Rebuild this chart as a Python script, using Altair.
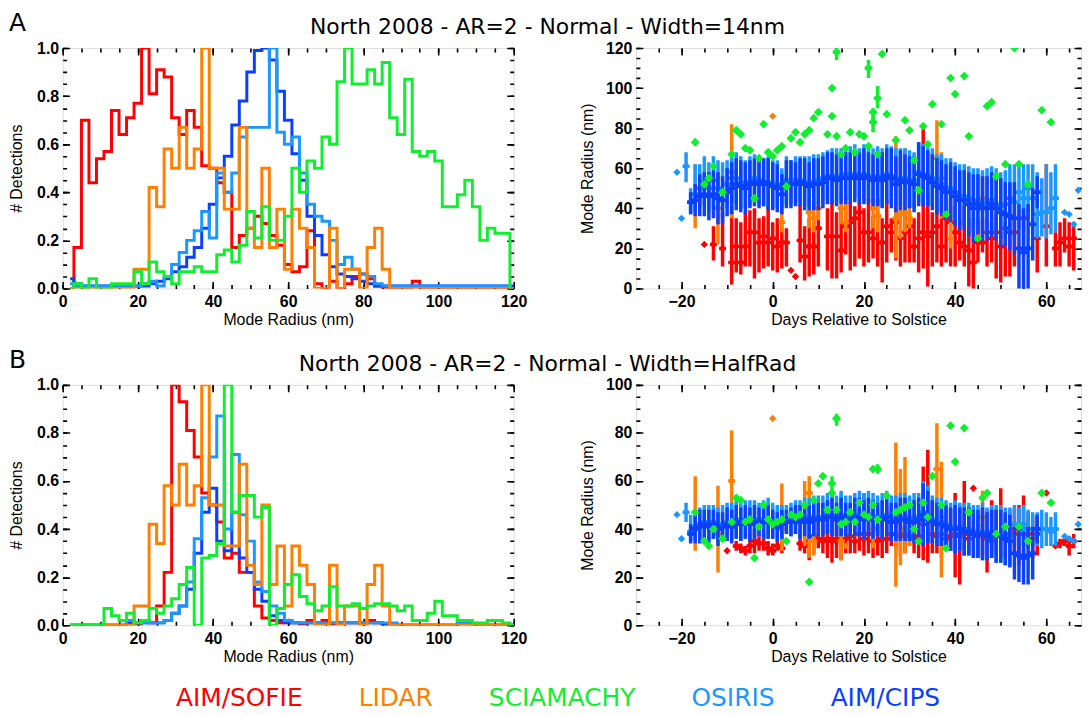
import altair as alt
import pandas as pd

# ---------------- categories / colours ----------------
SERIES = ["AIM/SOFIE", "LIDAR", "SCIAMACHY", "OSIRIS", "AIM/CIPS"]
COLORS = ["#ff0000", "#ff7f00", "#10ee30", "#1a98ff", "#0a40ff"]
HIST_ORDER = ["AIM/SOFIE", "AIM/CIPS", "OSIRIS", "LIDAR", "SCIAMACHY"]
SCAT_ORDER = ["AIM/SOFIE", "LIDAR", "OSIRIS", "AIM/CIPS", "SCIAMACHY"]

ROW_TITLES = ["North 2008 - AR=2 - Normal - Width=14nm",
              "North 2008 - AR=2 - Normal - Width=HalfRad"]
LETTERS = ["A", "B"]

# histogram bin centres (nm)
RADIUS_BINS = list(range(2, 121, 2))

# ---------------- histogram values, panel A ----------------
SOFIE_HA = [0.00,0.17,0.70,0.44,0.54,0.57,0.74,0.64,0.71,0.77, 1.00,0.81,0.91,0.88,0.71,0.64,0.74,0.67,0.51,0.50,
            0.44,0.40,0.17,0.22,0.25,0.30,0.27,0.22,0.18,0.10, 0.07,0.09,0.24,0.02,0.00,0.03,0.00,0.02,0.05,0.06,
            0.04,0.01,0.00,0.00,0.00,0.00,0.03,0.00,0.00,0.00, 0,0,0,0,0,0,0,0,0,0]
LIDAR_HA = [0,0,0,0,0,0,0,0,0,0.08, 0.08,0.42,0.34,0.58,0.50,0.67,0.50,0.58,1.00,0.50,
            0.50,0.33,0.33,0.67,0.25,0.17,0.50,0.17,0.33,0.08, 0.33,0.25,0.17,0.00,0.00,0.25,0.00,0.08,0.08,0.00,
            0.17,0.25,0.08,0,0,0,0,0,0,0, 0,0,0,0,0,0,0,0,0,0]
SCIA_HA = [0.00,0.02,0.00,0.04,0.00,0.00,0.02,0.02,0.02,0.07, 0.02,0.11,0.07,0.05,0.02,0.07,0.07,0.09,0.07,0.07,
           0.14,0.16,0.11,0.18,0.32,0.21,0.34,0.20,0.20,0.30, 0.50,0.40,0.53,0.50,0.63,0.60,0.86,1.00,0.85,0.85,
           0.91,0.85,0.94,0.71,0.64,0.87,0.57,0.55,0.57,0.53, 0.34,0.34,0.39,0.45,0.34,0.20,0.25,0.23,0.23,0.00]
OSIRIS_HA = [0.02,0.01,0.01,0.01,0.01,0.01,0.01,0.01,0.01,0.01, 0.02,0.03,0.01,0.05,0.10,0.15,0.20,0.24,0.32,0.21,
             0.48,0.40,0.48,0.63,0.67,0.67,0.67,1.00,0.65,0.60, 0.63,0.48,0.35,0.30,0.28,0.20,0.10,0.13,0.08,0.06,
             0.05,0.02,0.01,0.01,0.01,0.01,0.01,0.01,0.01,0.01, 0.01,0.01,0.01,0.01,0.01,0.01,0.01,0.01,0.01,0.00]
CIPS_HA = [0.04,0.02,0.01,0.01,0.01,0.01,0.01,0.01,0.01,0.01, 0.01,0.02,0.03,0.04,0.07,0.09,0.13,0.17,0.25,0.35,
           0.46,0.55,0.68,0.78,0.90,0.99,1.00,0.95,0.82,0.70, 0.56,0.45,0.30,0.22,0.14,0.09,0.06,0.05,0.04,0.03,
           0.02,0.01,0.01,0.01,0.01,0.01,0.01,0.01,0.01,0.01, 0.01,0.01,0.01,0.01,0.01,0.01,0.01,0.01,0.01,0.01]

# ---------------- histogram values, panel B ----------------
SOFIE_HB = [0,0,0,0,0,0,0,0,0,0, 0.02,0.01,0.08,0.22,1.00,0.93,0.81,0.70,0.55,0.50,
            0.43,0.28,0.30,0.22,0.22,0.08,0.03,0.02,0.01,0.02, 0.01,0.00,0.02,0.01,0.02,0.00,0.01,0.01,0.01,0.01,
            0.02,0.01,0,0,0,0,0,0,0,0, 0,0,0,0,0,0,0,0,0,0]
LIDAR_HB = [0,0,0,0,0,0,0,0,0,0.08, 0.08,0.42,0.34,0.58,0.50,0.67,0.50,0.58,1.00,0.50,
            0.50,0.33,0.33,0.67,0.25,0.17,0.50,0.17,0.33,0.08, 0.33,0.25,0.17,0.00,0.00,0.25,0.00,0.08,0.08,0.00,
            0.17,0.25,0.08,0,0,0,0,0,0,0, 0,0,0,0,0,0,0,0,0,0]
SCIA_HB = [0,0,0,0,0,0.07,0.04,0.02,0.05,0.01, 0.02,0.07,0.05,0.08,0.11,0.17,0.24,0.00,0.28,0.29,
           0.34,1.00,0.47,0.54,0.54,0.45,0.49,0.00,0.07,0.17, 0.21,0.12,0.09,0.06,0.08,0.16,0.08,0.08,0.09,0.07,
           0.08,0.09,0.09,0.08,0.06,0.08,0.02,0.02,0.05,0.10, 0.04,0.04,0.02,0.02,0.01,0.01,0.02,0.02,0.01,0.00]
OSIRIS_HB = [0,0,0,0,0,0,0,0,0.02,0.01, 0.01,0.01,0.01,0.02,0.05,0.08,0.18,0.36,0.53,0.70,
             0.87,0.40,0.71,0.46,0.35,0.18,0.14,0.08,0.05,0.02, 0.01,0.01,0.01,0.01,0.01,0.01,0.01,0.01,0.01,0.01,
             0.01,0.01,0.01,0.01,0,0,0,0,0,0, 0,0,0.01,0.01,0,0,0,0,0,0]
CIPS_HB = [0,0,0,0,0,0,0,0,0.01,0.01, 0.01,0.01,0.01,0.02,0.05,0.08,0.15,0.30,0.47,0.57,
           0.35,0.31,0.47,0.28,0.22,0.15,0.10,0.04,0.02,0.01, 0.01,0.01,0.01,0.01,0.01,0.01,0.01,0.01,0.01,0.01,
           0.01,0.01,0,0,0,0,0,0,0,0, 0,0,0.01,0.01,0,0,0,0,0,0]

# ---------------- daily mode radius (day, centre, low, high), panel A ----------------
SOFIE_SA = [(-15,22,22,22),(-13,22,14,31),(-11,20,11,38),(-9,13,2,41),(-8,21,8,35),(-7,13,7,33),(-6,21,11,38),
            (-5,28,11,39),(-4,28,5,40),(-3,23,8,35),(-2,26,10,36),(-1,23,11,41),(0,25,9,33),(1,21,8,35),(2,23,10,31),
            (3,23,11,30),(4,9,9,9),(5,6,6,6),(6,24,13,42),(7,16,4,31),(8,21,6,35),(9,21,7,36),(10,30,11,41),
            (12,26,9,40),(13,26,5,45),(14,26,5,38),(15,19,8,41),(16,31,17,42),(17,33,9,43),(18,35,11,41),
            (19,38,15,43),(20,28,11,40),(21,28,13,45),(22,25,15,36),(23,36,11,45),(24,23,3,35),(25,31,13,45),
            (26,28,18,35),(27,33,14,41),(28,25,11,40),(29,28,13,41),(30,31,13,38),(31,21,13,35),(32,25,8,38),
            (33,28,10,80),(34,26,1,47),(35,28,11,38),(36,31,13,41),(37,21,11,35),(38,35,13,46),(39,33,11,41),
            (40,28,11,41),(41,23,14,35),(42,21,11,41),(43,19,1,35),(44,13,-3,35),(45,23,13,33),(46,23,18,35),
            (47,28,11,35),(48,25,13,33),(49,28,5,38),(50,21,3,28),(51,30,6,33),(52,28,6,37),(53,28,11,38),
            (55,35,19,50),(58,25,8,38),(60,31,11,62),(62,20,11,28),(63,23,11,33),(64,25,18,35),(65,21,11,33),
            (66,25,9,33)]
LIDAR_SA = [(-17,47,30,62),(-12,40,22,58),(-9,58,35,82),(0,86,86,86),(2,33,28,58),(8,38,30,50),(9,35,28,45),
            (10,40,34,43),(15,40,32,48),(16,33,28,45),(22,40,30,50),(23,36,28,44),(27,35,15,76),(28,37,25,65),
            (29,38,28,70),(30,35,30,50),(36,65,40,84),(37,55,35,68),(39,25,20,45),(46,45,38,56)]
OSIRIS_SA = [(-21,58,58,58),(-20,35,35,35),(-19,61,53,68),(-18,43,37,50),(-17,47,38,62),(-16,50,40,62),
             (-15,53,42,66),(-14,50,38,63),(-13,54,40,66),(-12,50,38,64),(-11,48,35,63),(-10,52,40,64),
             (-9,55,42,66),(-8,55,42,68),(-7,53,40,66),(-6,52,40,64),(-5,53,41,66),(-4,55,43,67),(-3,54,42,66),
             (-2,53,41,65),(-1,53,40,66),(0,52,40,64),(1,52,40,64),(2,50,40,60),(3,54,42,66),(4,53,42,64),
             (5,54,42,66),(6,54,43,66),(7,53,41,66),(8,53,40,66),(9,53,40,67),(10,54,42,67),(11,55,42,68),
             (12,56,44,69),(13,56,43,70),(14,56,43,70),(15,56,44,70),(16,57,44,70),(17,57,44,71),(18,57,45,72),
             (19,56,43,70),(20,57,44,72),(21,56,43,71),(22,56,43,70),(23,56,42,71),(24,55,41,70),(25,57,42,72),
             (26,56,42,71),(27,54,40,70),(28,55,41,70),(29,55,41,70),(30,54,40,69),(31,54,40,68),(32,58,43,73),
             (33,57,42,72),(34,56,41,71),(35,55,41,70),(36,53,39,67),(37,52,38,67),(38,50,36,65),(39,50,35,65),
             (40,48,34,63),(41,46,32,62),(42,46,31,62),(43,45,30,61),(44,43,28,60),(45,44,29,60),(46,42,27,59),
             (47,43,27,60),(48,44,28,61),(49,42,27,60),(50,41,25,58),(51,42,27,59),(52,45,28,62),(53,43,25,62),
             (54,48,30,63),(55,45,28,62),(56,50,35,62),(57,45,27,62),(58,37,25,58),(59,38,26,55),(60,38,25,62),
             (61,40,27,58),(62,45,28,62),(64,38,38,38),(65,37,37,37),(66,32,32,32),(67,49,49,49)]
CIPS_SA = [(-18,43,37,48),(-17,44,36,52),(-16,46,36,57),(-15,47,36,58),(-14,46,34,58),(-13,47,35,59),
           (-12,45,32,58),(-11,44,32,56),(-10,48,36,60),(-9,50,37,63),(-8,52,39,65),(-7,51,38,64),(-6,50,37,63),
           (-5,52,40,64),(-4,53,41,65),(-3,52,40,64),(-2,53,41,65),(-1,52,39,65),(0,51,39,63),(1,50,38,62),
           (2,47,37,57),(3,52,40,64),(4,52,40,64),(5,52,41,63),(6,53,41,65),(7,52,39,65),(8,51,39,63),
           (9,52,39,65),(10,52,39,65),(11,53,40,66),(12,55,42,68),(13,55,42,68),(14,54,41,67),(15,55,42,68),
           (16,55,42,68),(17,55,42,68),(18,56,43,69),(19,55,42,68),(20,56,42,70),(21,55,42,68),(22,54,41,67),
           (23,55,41,69),(24,54,40,68),(25,56,42,70),(26,55,40,70),(27,52,38,66),(28,54,39,69),(29,53,39,67),
           (30,53,40,66),(31,52,38,66),(32,57,41,73),(33,56,41,71),(34,55,41,69),(35,53,39,67),(36,51,37,65),
           (37,50,36,64),(38,48,34,62),(39,48,33,63),(40,46,31,61),(41,44,29,59),(42,44,29,59),(43,42,26,58),
           (44,40,23,57),(45,42,27,57),(46,40,24,56),(47,40,24,56),(48,42,26,58),(49,40,24,56),(50,38,21,55),
           (51,37,21,53),(52,36,19,53),(53,35,17,53),(54,20,-2,42),(55,18,-4,40),(56,20,-2,42),(57,32,14,50),
           (58,48,40,56)]
SCIA_SA = [(-17,73,73,73),(-15,52,52,52),(-14,55,55,55),(-13,61,61,61),(-11,48,48,48),(-9,67,67,67),
           (-8,79,79,79),(-7,77,77,77),(-6,70,70,70),(-5,69,69,69),(-4,45,45,45),(-3,65,65,65),(-2,82,82,82),
           (-1,68,68,68),(0,66,66,66),(1,69,69,69),(2,71,71,71),(3,51,51,51),(4,75,75,75),(5,78,78,78),
           (6,73,73,73),(7,77,77,77),(8,79,79,79),(9,85,85,85),(10,88,88,88),(12,77,77,77),(13,100,100,100),
           (13,86,86,86),(14,118,114,121),(14,76,76,76),(15,67,67,67),(16,70,70,70),(17,78,78,78),(18,68,68,68),
           (19,77,77,77),(20,76,76,76),(21,110,105,114),(21,71,71,71),(22,88,84,90),(22,83,78,86),
           (23,95,90,101),(23,67,67,67),(24,117,117,117),(25,87,87,87),(27,74,74,74),(29,84,84,84),(30,79,79,79),
           (31,64,64,64),(32,49,49,49),(33,81,81,81),(34,72,72,72),(35,92,92,92),(37,82,82,82),(38,37,37,37),
           (39,105,105,105),(40,97,97,97),(42,106,106,106),(43,76,76,76),(45,25,25,25),(47,91,91,91),
           (48,93,93,93),(49,56,56,56),(51,62,62,62),(53,120,120,120),(54,62,62,62),(56,52,52,52),
           (59,89,89,89),(61,83,83,83)]

# ---------------- daily mode radius (day, centre, low, high), panel B ----------------
SOFIE_SB = [(-10,31,31,31),(-8,33,31,35),(-7,32,30,34),(-6,31,29,33),(-5,33,30,38),(-4,35,30,40),(-3,34,31,37),
            (-2,34,31,38),(-1,32,29,35),(0,31,29,34),(1,33,31,35),(2,32,30,38),(6,34,31,38),(7,33,30,37),
            (8,35,27,43),(9,37,30,44),(10,36,32,44),(11,35,30,42),(12,36,28,45),(13,35,26,44),(14,36,28,45),
            (15,35,27,44),(16,36,30,45),(17,37,30,45),(18,35,30,41),(19,38,31,49),(20,36,29,55),(21,38,30,48),
            (22,35,28,45),(23,35,29,42),(24,36,28,45),(25,36,30,50),(26,38,33,48),(27,38,32,45),(28,37,29,47),
            (29,38,30,49),(30,37,33,45),(31,36,30,46),(32,37,28,45),(33,42,27,66),(34,44,26,73),(35,38,30,52),
            (36,37,30,45),(37,38,28,48),(38,36,32,45),(39,37,31,48),(40,38,20,55),(41,37,17,50),(42,38,29,60),
            (43,36,30,49),(44,57,57,57),(45,37,29,42),(46,38,29,45),(47,36,22,48),(48,35,28,52),(49,37,30,48),
            (50,38,28,57),(51,36,28,45),(52,38,30,48),(53,40,30,49),(54,38,25,50),(55,40,28,54),(56,38,32,47),
            (57,36,28,45),(58,38,29,46),(60,55,55,55),(62,33,33,33),(63,34,32,36),(64,35,33,37),(65,33,29,37),
            (66,35,32,38)]
LIDAR_SB = [(-17,47,31,62),(-12,38,22,58),(-9,60,38,81),(0,86,86,86),(2,40,31,59),(7,45,33,60),(8,55,28,62),
            (9,35,29,45),(15,35,27,55),(16,33,33,33),(22,40,32,48),(27,45,16,76),(28,45,25,65),(29,40,30,70),
            (30,45,33,53),(36,65,35,84),(37,45,20,68),(46,45,38,56)]
OSIRIS_SB = [(-21,46,46,46),(-20,36,36,36),(-19,47,43,51),(-18,39,35,46),(-17,41,35,48),(-16,42,35,49),
             (-15,43,36,50),(-14,42,35,50),(-13,43,36,50),(-12,42,35,49),(-11,42,35,50),(-10,43,35,51),
             (-9,43,35,51),(-8,44,36,52),(-7,43,35,51),(-6,44,36,52),(-5,44,36,52),(-4,44,36,52),(-3,44,37,51),
             (-2,44,36,52),(-1,44,36,53),(0,43,36,51),(1,42,35,50),(2,43,36,50),(3,44,38,50),(4,44,37,51),
             (5,45,38,52),(6,44,36,52),(7,45,37,53),(8,44,36,53),(9,45,37,54),(10,45,37,54),(11,45,37,54),
             (12,46,38,55),(13,46,37,55),(14,45,37,54),(15,46,37,56),(16,45,37,54),(17,45,37,54),(18,46,37,55),
             (19,46,37,56),(20,45,36,55),(21,46,37,56),(22,45,36,55),(23,45,37,54),(24,45,36,55),(25,46,37,56),
             (26,44,35,54),(27,44,35,54),(28,45,35,55),(29,45,35,55),(30,44,35,54),(31,44,34,55),(32,45,35,55),
             (33,47,33,60),(34,46,34,58),(35,44,34,54),(36,43,33,53),(37,43,33,53),(38,42,32,52),(39,41,31,51),
             (40,41,30,52),(41,41,31,51),(42,40,29,51),(43,40,29,51),(44,39,28,50),(45,39,28,50),(46,39,27,51),
             (47,38,27,49),(48,39,28,50),(49,38,26,50),(50,38,26,50),(51,37,25,49),(52,37,25,49),(53,42,33,50),
             (54,41,33,49),(55,42,33,50),(56,40,32,48),(57,40,33,47),(58,40,33,47),(59,40,32,48),(60,40,33,47),
             (61,39,33,45),(62,40,33,47),(64,37,37,37),(65,36,36,36),(66,35,35,35),(67,42,42,42)]
CIPS_SB = [(-18,38,34,42),(-17,40,34,46),(-16,41,34,48),(-15,42,36,48),(-14,41,34,48),(-13,42,36,48),
           (-12,40,33,47),(-11,41,35,47),(-10,42,35,49),(-9,41,34,48),(-8,43,36,50),(-7,42,35,49),(-6,43,36,50),
           (-5,42,35,49),(-4,43,36,50),(-3,43,37,49),(-2,43,36,50),(-1,43,36,50),(0,42,36,48),(1,41,35,47),
           (2,42,36,48),(3,43,38,48),(4,43,37,49),(5,44,38,50),(6,43,36,50),(7,44,37,51),(8,43,36,50),
           (9,44,37,51),(10,44,37,51),(11,44,37,51),(12,45,38,52),(13,45,37,53),(14,44,37,51),(15,45,37,53),
           (16,44,37,51),(17,44,37,51),(18,45,37,53),(19,45,37,53),(20,44,36,52),(21,45,37,53),(22,44,36,52),
           (23,44,37,51),(24,44,36,52),(25,45,37,53),(26,43,35,51),(27,43,35,51),(28,44,35,53),(29,44,35,53),
           (30,43,35,51),(31,43,34,52),(32,44,35,53),(33,46,33,59),(34,45,34,56),(35,43,34,52),(36,42,33,51),
           (37,42,33,51),(38,41,32,50),(39,40,31,49),(40,40,30,50),(41,40,31,49),(42,39,29,49),(43,39,29,49),
           (44,38,28,48),(45,38,28,48),(46,38,27,49),(47,37,27,47),(48,38,28,48),(49,37,26,48),(50,37,26,48),
           (51,36,25,47),(52,35,24,46),(53,30,19,41),(54,29,18,40),(55,28,17,39),(56,29,17,41),(57,30,19,41),
           (58,40,34,46)]
SCIA_SB = [(-17,47,47,47),(-15,35,35,35),(-14,33,33,33),(-13,40,40,40),(-11,36,36,36),(-9,43,43,43),
           (-8,53,53,53),(-7,52,52,52),(-6,43,43,43),(-5,44,44,44),(-4,28,28,28),(-3,41,41,41),(-2,50,50,50),
           (-1,44,44,44),(0,42,42,42),(1,43,43,43),(2,44,44,44),(3,35,35,35),(4,46,46,46),(5,45,45,45),
           (6,46,46,46),(7,50,50,50),(8,18,18,18),(9,52,52,52),(10,59,59,59),(11,62,62,62),(12,48,48,48),
           (13,59,55,62),(13,55,55,55),(14,86,83,88),(14,48,48,48),(15,42,42,42),(16,43,43,43),(17,47,47,47),
           (18,43,43,43),(19,51,51,51),(20,46,46,46),(21,45,45,45),(22,65,65,65),(22,50,50,50),(23,65,63,67),
           (23,44,44,44),(25,54,54,54),(27,47,47,47),(28,48,48,48),(29,49,49,49),(30,50,50,50),(31,40,40,40),
           (32,35,35,35),(33,51,51,51),(34,45,45,45),(35,62,62,62),(37,50,50,50),(38,32,32,32),(39,83,83,83),
           (40,68,68,68),(42,82,82,82),(43,47,47,47),(46,53,53,53),(47,55,55,55),(49,38,38,38),(51,41,41,41),
           (54,41,41,41),(56,35,35,35),(59,55,55,55),(61,51,51,51)]

HIST = [
    {"AIM/SOFIE": SOFIE_HA, "LIDAR": LIDAR_HA, "SCIAMACHY": SCIA_HA, "OSIRIS": OSIRIS_HA, "AIM/CIPS": CIPS_HA},
    {"AIM/SOFIE": SOFIE_HB, "LIDAR": LIDAR_HB, "SCIAMACHY": SCIA_HB, "OSIRIS": OSIRIS_HB, "AIM/CIPS": CIPS_HB},
]
SCAT = [
    {"AIM/SOFIE": SOFIE_SA, "LIDAR": LIDAR_SA, "SCIAMACHY": SCIA_SA, "OSIRIS": OSIRIS_SA, "AIM/CIPS": CIPS_SA},
    {"AIM/SOFIE": SOFIE_SB, "LIDAR": LIDAR_SB, "SCIAMACHY": SCIA_SB, "OSIRIS": OSIRIS_SB, "AIM/CIPS": CIPS_SB},
]

# ---------------- tick labels ----------------
H_X_MAJOR = [0, 20, 40, 60, 80, 100, 120]
H_X_MINOR = list(range(0, 121, 5))
H_Y_MAJOR = [0.0, 0.2, 0.4, 0.6, 0.8, 1.0]
H_Y_MINOR = [i / 20 for i in range(0, 21)]
S_X_MAJOR = [-20, 0, 20, 40, 60]
S_X_MINOR = list(range(-25, 68, 5))
S_Y_TOP = [120, 100]
S_Y_MAJOR = [[0, 20, 40, 60, 80, 100, 120], [0, 20, 40, 60, 80, 100]]

# ---------------- styling / layout ----------------
TXT_FONT = "DejaVu Sans"
AX_FONT = "Liberation Sans"
H_W, S_W, PANEL_H = 454, 448, 242
DAY_DOMAIN = [-30, 67.6]
MAJOR_TICK, MINOR_TICK = 7, 4

color_scale = alt.Scale(domain=SERIES, range=COLORS)
label_color_expr = " : ".join(f"datum.label === '{n}' ? '{c}'" for n, c in zip(SERIES, COLORS)) + " : 'black'"
legend = alt.Legend(
    title=None, orient="none", legendX=89, legendY=641, direction="horizontal", columns=5,
    symbolSize=0, symbolOpacity=0, symbolStrokeWidth=0, labelOffset=0, padding=0,
    labelFont=TXT_FONT, labelFontSize=25, labelLimit=400, columnPadding=31,
    labelColor={"expr": label_color_expr},
)


def tick_axis(orient, values, tick_len, across, labels=False, title=None, fmt=None, lab_pad=5, title_pad=4):
    """Inward IDL-style ticks on both opposite frame edges, drawn as dashed grid lines."""
    kw = dict(orient=orient, values=values, ticks=False, domain=False, labels=labels,
              grid=True, gridColor="black", gridOpacity=1, gridWidth=1.6,
              gridDash=[tick_len, across - 2 * tick_len])
    if labels:
        kw.update(labelFont=AX_FONT, labelFontSize=16, labelFontWeight="bold", labelColor="black",
                  labelPadding=lab_pad, labelFlush=False, labelOverlap=False)
        if fmt:
            kw["format"] = fmt
    if title:
        kw.update(title=title, titleFont=AX_FONT, titleFontSize=16, titleFontWeight="normal",
                  titleColor="black", titlePadding=title_pad)
    else:
        kw["title"] = None
    return alt.Axis(**kw)


def headers(i):
    letter = alt.Chart(pd.DataFrame({"t": [LETTERS[i]]})).mark_text(
        font=TXT_FONT, fontSize=25, align="left", baseline="alphabetic", color="black"
    ).encode(text="t:N", x=alt.value(-54), y=alt.value(-17))
    title = alt.Chart(pd.DataFrame({"t": [ROW_TITLES[i]]})).mark_text(
        font=TXT_FONT, fontSize=22, align="center", baseline="alphabetic", color="black"
    ).encode(text="t:N", x=alt.value(488), y=alt.value(-14))
    return [letter, title]


def hist_chart(i):
    xs = alt.Scale(domain=[0, 120], nice=False, zero=False)
    ys = alt.Scale(domain=[0, 1], nice=False)
    layers = []
    for k, name in enumerate(HIST_ORDER):
        df = pd.DataFrame({"radius": RADIUS_BINS, "frac": HIST[i][name], "inst": name})
        layers.append(alt.Chart(df).mark_line(interpolate="step", strokeWidth=3, clip=True).encode(
            x=alt.X("radius:Q", scale=xs,
                    axis=tick_axis("bottom", H_X_MAJOR, MAJOR_TICK, PANEL_H, True, "Mode Radius (nm)", "d", 5, 2)
                    if k == 0 else None),
            y=alt.Y("frac:Q", scale=ys,
                    axis=tick_axis("left", H_Y_MAJOR, MAJOR_TICK, H_W, True, "# Detections", ".1f", 4, 12)
                    if k == 0 else None),
            color=alt.Color("inst:N", scale=color_scale, legend=legend if (i == 0 and k == 0) else None),
        ))
    base = alt.Chart(pd.DataFrame({"radius": RADIUS_BINS, "frac": HIST[i]["AIM/SOFIE"]}))
    layers.append(base.mark_point(opacity=0).encode(
        x=alt.X("radius:Q", scale=xs, axis=tick_axis("bottom", H_X_MINOR, MINOR_TICK, PANEL_H)),
        y=alt.Y("frac:Q", scale=ys, axis=tick_axis("left", H_Y_MINOR, MINOR_TICK, H_W)),
    ))
    layers += headers(i)
    return alt.layer(*layers).resolve_axis(x="independent", y="independent").properties(width=H_W, height=PANEL_H)


def scat_chart(i):
    xs = alt.Scale(domain=DAY_DOMAIN, nice=False, zero=False)
    ys = alt.Scale(domain=[0, S_Y_TOP[i]], nice=False)
    y_minor = list(range(0, S_Y_TOP[i] + 1, 5))
    layers = []
    first = True
    for name in SCAT_ORDER:
        rows = SCAT[i][name]
        df = pd.DataFrame({"day": [r[0] for r in rows], "mid": [r[1] for r in rows],
                           "lo": [r[2] for r in rows], "hi": [r[3] for r in rows], "inst": name})
        base = alt.Chart(df)
        col = alt.Color("inst:N", scale=color_scale, legend=None)
        bars = base.transform_filter("datum.hi > datum.lo")
        layers.append(bars.mark_rule(strokeWidth=3.5, clip=True).encode(
            x=alt.X("day:Q", scale=xs,
                    axis=tick_axis("bottom", S_X_MAJOR, MAJOR_TICK, PANEL_H, True, "Days Relative to Solstice",
                                   "d", 5, 2) if first else None),
            y=alt.Y("lo:Q", scale=ys,
                    axis=tick_axis("left", S_Y_MAJOR[i], MAJOR_TICK, S_W, True, "Mode Radius (nm)", "d", 4, 10)
                    if first else None),
            y2="hi:Q", color=col))
        first = False
        layers.append(bars.transform_calculate(d0="datum.day - 0.75", d1="datum.day + 0.75")
                      .mark_rule(strokeWidth=3.5, clip=True).encode(
            x=alt.X("d0:Q", scale=xs, axis=None), x2="d1:Q",
            y=alt.Y("mid:Q", scale=ys, axis=None), color=col))
        layers.append(base.mark_point(shape="diamond", filled=True, opacity=1,
                                      size=80 if name == "SCIAMACHY" else 55, clip=True).encode(
            x=alt.X("day:Q", scale=xs, axis=None),
            y=alt.Y("mid:Q", scale=ys, axis=None), color=col))
    tb = alt.Chart(pd.DataFrame({"day": S_X_MAJOR, "mid": S_X_MAJOR}))
    layers.append(tb.mark_point(opacity=0).encode(
        x=alt.X("day:Q", scale=xs, axis=tick_axis("bottom", S_X_MINOR, MINOR_TICK, PANEL_H)),
        y=alt.Y("mid:Q", scale=ys, axis=tick_axis("left", y_minor, MINOR_TICK, S_W)),
    ))
    return alt.layer(*layers).resolve_axis(x="independent", y="independent").properties(width=S_W, height=PANEL_H)


chart = alt.concat(
    hist_chart(0), scat_chart(0), hist_chart(1), scat_chart(1),
    columns=2, spacing={"row": 97, "column": 123}, bounds="flush", align="each",
).properties(padding=0).configure_view(stroke="black", strokeWidth=2).configure(background="white")

chart.save("out.html", embed_options={"renderer": "svg", "actions": False})
